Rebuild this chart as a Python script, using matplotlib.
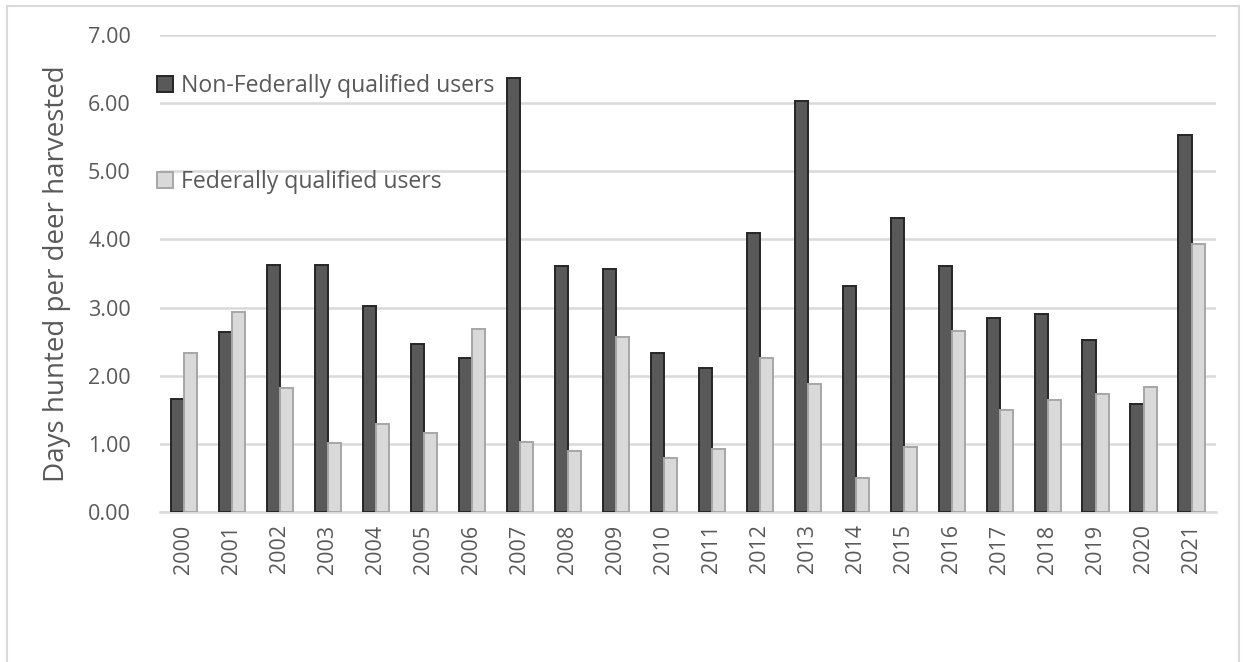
import matplotlib
matplotlib.use("Agg")
import matplotlib.pyplot as plt
import numpy as np
from matplotlib.patches import Rectangle

years = [str(y) for y in range(2000, 2022)]
non_federal = [1.66, 2.64, 3.63, 3.63, 3.03, 2.47, 2.26, 6.37, 3.61, 3.57, 2.33,
               2.11, 4.09, 6.03, 3.31, 4.31, 3.61, 2.85, 2.91, 2.52, 1.58, 5.54]
federal = [2.33, 2.93, 1.82, 1.01, 1.29, 1.16, 2.69, 1.03, 0.90, 2.57, 0.79,
           0.92, 2.26, 1.88, 0.50, 0.96, 2.66, 1.50, 1.65, 1.73, 1.84, 3.93]
y_ticks = [0, 1, 2, 3, 4, 5, 6, 7]

plt.rcParams['font.family'] = ['Open Sans', 'DejaVu Sans']
text_color = '#595959'
grid_color = '#d9d9d9'

fig = plt.figure(figsize=(12.43, 6.62), dpi=100)
ax = fig.add_axes([0.1287, 0.2266, 0.978 - 0.1287, 0.947 - 0.2266])

# outer chart border
fig.patches.append(Rectangle((7 / 1243, -0.05), (1239 - 7) / 1243, 1 - 6 / 662 + 0.05,
                             transform=fig.transFigure, fill=False,
                             edgecolor=grid_color, linewidth=1.5))

x = np.arange(len(years))
w = 0.275
ax.bar(x - w / 2, non_federal, width=w, color='#595959', edgecolor='#262626',
       linewidth=1.4, label='Non-Federally qualified users', zorder=3)
ax.bar(x + w / 2, federal, width=w, color='#d9d9d9', edgecolor='#a6a6a6',
       linewidth=1.4, label='Federally qualified users', zorder=3)

ax.set_xlim(-0.5, len(years) - 0.5)
ax.set_ylim(0, 7)
ax.set_yticks(y_ticks)
ax.set_yticklabels([f"{v:.2f}" for v in y_ticks])
ax.set_xticks(x)
ax.set_xticklabels(years, rotation=90)
ax.grid(axis='y', color=grid_color, linewidth=1.8, zorder=0)
ax.set_axisbelow(True)
for s in ['top', 'right', 'left']:
    ax.spines[s].set_visible(False)
ax.spines['bottom'].set_color(grid_color)
ax.spines['bottom'].set_linewidth(1.8)
ax.tick_params(axis='y', length=0, pad=21, labelsize=15.5, labelcolor=text_color)
ax.tick_params(axis='x', length=0, pad=9, labelsize=15.5, labelcolor=text_color)

ax.set_ylabel('Days hunted per deer harvested', fontsize=20, color=text_color, labelpad=12)

leg = ax.legend(loc='upper left', bbox_to_anchor=(-0.012, 0.937), frameon=False,
                fontsize=16.6, labelcolor=text_color, handlelength=0.7,
                handleheight=0.7, handletextpad=0.35, labelspacing=3.1,
                borderaxespad=0)

fig.savefig('out.png', dpi=100, facecolor='white')
